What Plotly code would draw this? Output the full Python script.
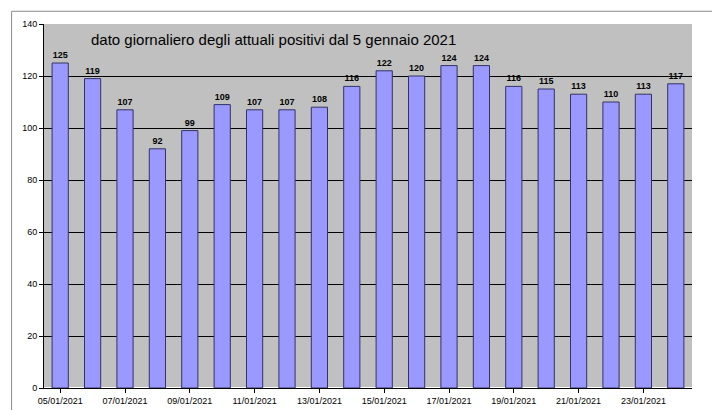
import plotly.graph_objects as go

date_labels = [f"{d:02d}/01/2021" for d in range(5, 25)]
positivi = [125, 119, 107, 92, 99, 109, 107, 107, 108, 116, 122, 120, 124, 124, 116, 115, 113, 110, 113, 117]
y_ticks = [0, 20, 40, 60, 80, 100, 120, 140]

fig = go.Figure(go.Bar(
    x=date_labels, y=positivi,
    marker=dict(color="#9999ff", line=dict(color="#333366", width=1)),
    width=0.5,
    text=[f"<b>{v}</b>" for v in positivi], textposition="outside",
    textfont=dict(family="Liberation Sans, Arial", size=9, color="black"),
    cliponaxis=False,
))

fig.update_layout(
    width=720, height=410,
    margin=dict(l=36, r=36, t=16, b=30),
    plot_bgcolor="#c0c0c0", paper_bgcolor="white",
    showlegend=False, bargap=0.5,
    font=dict(family="Liberation Sans, Arial", size=9, color="black"),
    annotations=[dict(
        text="dato giornaliero degli attuali positivi dal 5 gennaio 2021",
        xref="paper", yref="paper", x=0.07, y=0.985,
        xanchor="left", yanchor="top", showarrow=False,
        font=dict(family="Liberation Sans, Arial", size=15, color="black"),
    )],
    shapes=[dict(type="rect", xref="paper", yref="paper",
                 x0=-0.05, x1=1.05, y0=-0.08, y1=1.035,
                 line=dict(color="#888888", width=1))],
)
fig.update_xaxes(
    tickvals=date_labels[::2], ticktext=date_labels[::2], automargin=False,
    showline=True, linecolor="black", linewidth=1,
    ticks="outside", ticklen=4, tickcolor="black",
)
fig.update_yaxes(
    range=[0, 140], tickvals=y_ticks, automargin=False,
    showgrid=True, gridcolor="black", gridwidth=1,
    showline=True, linecolor="black", linewidth=1,
    ticks="outside", ticklen=4, tickcolor="black",
)

fig.write_html("out.html")
